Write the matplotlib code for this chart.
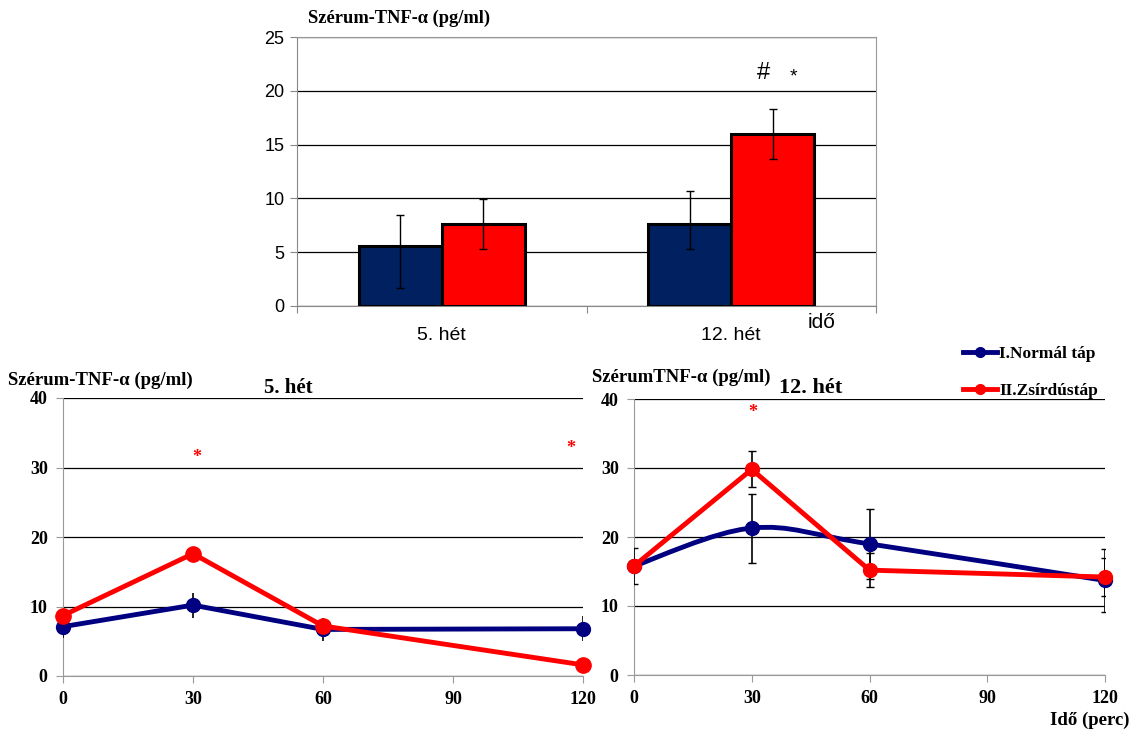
import matplotlib
matplotlib.use('Agg')
import matplotlib.pyplot as plt
from matplotlib.path import Path
from matplotlib.patches import PathPatch
from matplotlib.lines import Line2D

# top bar chart
weeks = ['5. hét', '12. hét']
bar_normal = [5.6, 7.6]
bar_normal_lo = [3.9, 2.3]
bar_normal_hi = [2.9, 3.1]
bar_fat = [7.6, 16.0]
bar_fat_lo = [2.3, 2.3]
bar_fat_hi = [2.3, 2.3]

# bottom line charts
minutes = [0, 30, 60, 120]
w5_normal = [7.1, 10.2, 6.7, 6.8]
w5_normal_err = [1.7, 1.8, 1.7, 1.8]
w5_fat = [8.7, 17.6, 7.2, 1.6]
w12_normal = [15.8, 21.3, 19.0, 13.7]
w12_normal_err = [2.6, 5.0, 5.1, 4.6]
w12_fat = [15.8, 29.8, 15.2, 14.2]
w12_fat_err = [0.0, 2.6, 2.5, 2.8]

NAVY_BAR = '#002060'
NAVY = '#000080'
RED = '#ff0000'
serif = 'Liberation Serif'
sans = 'Liberation Sans'

W, H = 1134, 733
fig = plt.figure(figsize=(W / 100, H / 100), dpi=100)


def px_axes(x0, y0, x1, y1):
    # pixel box (top-left origin) -> figure fraction
    return fig.add_axes([x0 / W, 1 - y1 / H, (x1 - x0) / W, (y1 - y0) / H])


# ---------- top: bars ----------
ax = px_axes(297, 37, 876, 306)
bw = 0.287
xs = [0, 1]
ax.bar([x - bw / 2 for x in xs], bar_normal, bw, color=NAVY_BAR, edgecolor='black',
       linewidth=2.2, zorder=3)
ax.bar([x + bw / 2 for x in xs], bar_fat, bw, color=RED, edgecolor='black',
       linewidth=2.2, zorder=3)
ax.errorbar([x - bw / 2 for x in xs], bar_normal, yerr=[bar_normal_lo, bar_normal_hi],
            fmt='none', ecolor='black', elinewidth=1, capsize=3, zorder=4)
ax.errorbar([x + bw / 2 for x in xs], bar_fat, yerr=[bar_fat_lo, bar_fat_hi],
            fmt='none', ecolor='black', elinewidth=1, capsize=3, zorder=4)
ax.set_xlim(-0.5, 1.5)
ax.set_ylim(0, 25)
ax.set_yticks(range(0, 26, 5))
ax.yaxis.grid(True, color='black', linewidth=0.9, zorder=0)
ax.set_xticks([-0.5, 0.5, 1.5])
ax.set_xticklabels([])
ax.set_xticks(xs, minor=True)
ax.set_xticklabels(weeks, minor=True, fontfamily=sans, fontsize=14)
ax.tick_params(axis='x', which='minor', length=0, pad=15)
ax.tick_params(axis='x', which='major', length=5, color='#888888')
ax.tick_params(axis='y', length=5, color='#888888', labelsize=13, pad=4)
for lab in ax.get_yticklabels():
    lab.set_fontfamily(sans)
for side in ['top', 'right']:
    ax.spines[side].set_color('#999999')
ax.spines['left'].set_color('#888888')
ax.spines['bottom'].set_color('#888888')
ax.text(1.11, 21.65, '#', fontfamily=sans, fontsize=17, ha='center', va='center')
ax.text(1.215, 21.3, '*', fontfamily=sans, fontsize=14, ha='center', va='center')
fig.text(308 / W, 1 - 18 / H, 'Szérum-TNF-α (pg/ml)', fontfamily=serif, fontweight='bold',
         fontsize=13.3, va='center')
fig.text(808 / W, 1 - 322 / H, 'idő', fontfamily=sans, fontsize=15, va='center')


def style_line_axes(a):
    a.set_xlim(0, 120)
    a.set_ylim(0, 40)
    a.set_xticks([0, 30, 60, 90, 120])
    a.set_yticks([0, 10, 20, 30, 40])
    a.yaxis.grid(True, color='black', linewidth=0.9, zorder=0)
    a.spines['right'].set_visible(False)
    a.spines['top'].set_visible(False)
    a.spines['left'].set_color('#999999')
    a.spines['bottom'].set_color('#999999')
    a.tick_params(length=5, color='#999999', labelsize=13, pad=6)
    for lab in a.get_xticklabels() + a.get_yticklabels():
        lab.set_fontfamily(serif)
        lab.set_fontweight('bold')


# ---------- bottom left: week 5 ----------
a1 = px_axes(63, 398, 583, 676)
style_line_axes(a1)
a1.errorbar(minutes, w5_normal, yerr=w5_normal_err, fmt='none', ecolor='black',
            elinewidth=1.2, capsize=0, zorder=3)
a1.plot(minutes, w5_normal, color=NAVY, linewidth=3.5, marker='o', markersize=10,
        zorder=4, clip_on=False)
a1.plot(minutes, w5_fat, color=RED, linewidth=3.5, marker='o', markersize=11,
        zorder=5, clip_on=False)
a1.text(30.9, 31.4, '*', color=RED, fontfamily=serif, fontweight='bold', fontsize=13, ha='center', va='center')
a1.text(117.2, 32.7, '*', color=RED, fontfamily=serif, fontweight='bold', fontsize=13, ha='center', va='center')
fig.text(8 / W, 1 - 380 / H, 'Szérum-TNF-α (pg/ml)', fontfamily=serif, fontweight='bold',
         fontsize=13.5, va='center')
fig.text(288 / W, 1 - 388 / H, '5. hét', fontfamily=serif, fontweight='bold',
         fontsize=15, va='center', ha='center')

# ---------- bottom right: week 12 ----------
a2 = px_axes(634, 399, 1105, 675)
style_line_axes(a2)
a2.errorbar(minutes, w12_normal, yerr=w12_normal_err, fmt='none', ecolor='black',
            elinewidth=1.2, capsize=3, zorder=3)
a2.errorbar(minutes, w12_fat, yerr=w12_fat_err, fmt='none', ecolor='black',
            elinewidth=1.2, capsize=3, zorder=3)
# smoothed line (Catmull-Rom as cubic Bezier segments)
pts = list(zip(minutes, w12_normal))
verts = [pts[0]]
codes = [Path.MOVETO]
for i in range(len(pts) - 1):
    p0 = pts[i - 1] if i > 0 else pts[i]
    p1, p2 = pts[i], pts[i + 1]
    p3 = pts[i + 2] if i + 2 < len(pts) else pts[i + 1]
    c1 = (p1[0] + (p2[0] - p0[0]) / 6, p1[1] + (p2[1] - p0[1]) / 6)
    c2 = (p2[0] - (p3[0] - p1[0]) / 6, p2[1] - (p3[1] - p1[1]) / 6)
    verts += [c1, c2, p2]
    codes += [Path.CURVE4] * 3
a2.add_patch(PathPatch(Path(verts, codes), facecolor='none', edgecolor=NAVY,
                       linewidth=3.5, zorder=4))
a2.plot(minutes, w12_normal, linestyle='none', color=NAVY, marker='o', markersize=10,
        zorder=4, clip_on=False)
a2.plot(minutes, w12_fat, color=RED, linewidth=3.5, marker='o', markersize=10,
        zorder=5, clip_on=False)
a2.text(30.3, 38.0, '*', color=RED, fontfamily=serif, fontweight='bold', fontsize=13, ha='center', va='center')
fig.text(592 / W, 1 - 377 / H, 'SzérumTNF-α (pg/ml)', fontfamily=serif, fontweight='bold',
         fontsize=13.5, va='center')
fig.text(811 / W, 1 - 388 / H, '12. hét', fontfamily=serif, fontweight='bold',
         fontsize=16, va='center', ha='center')
fig.text(1130 / W, 1 - 720 / H, 'Idő (perc)', fontfamily=serif, fontweight='bold',
         fontsize=13.5, va='center', ha='right')

# legend
handles = [Line2D([], [], color=NAVY, linewidth=3.5, marker='o', markersize=7),
           Line2D([], [], color=RED, linewidth=3.5, marker='o', markersize=7)]
fig.legend(handles, ['I.Normál táp', 'II.Zsírdústáp'], loc='upper left',
           bbox_to_anchor=(947 / W, 1 - 330 / H), frameon=False, handlelength=2.0,
           handletextpad=0.1, labelspacing=1.2,
           prop={'family': serif, 'weight': 'bold', 'size': 12.5})

fig.savefig('out.png', dpi=100)
